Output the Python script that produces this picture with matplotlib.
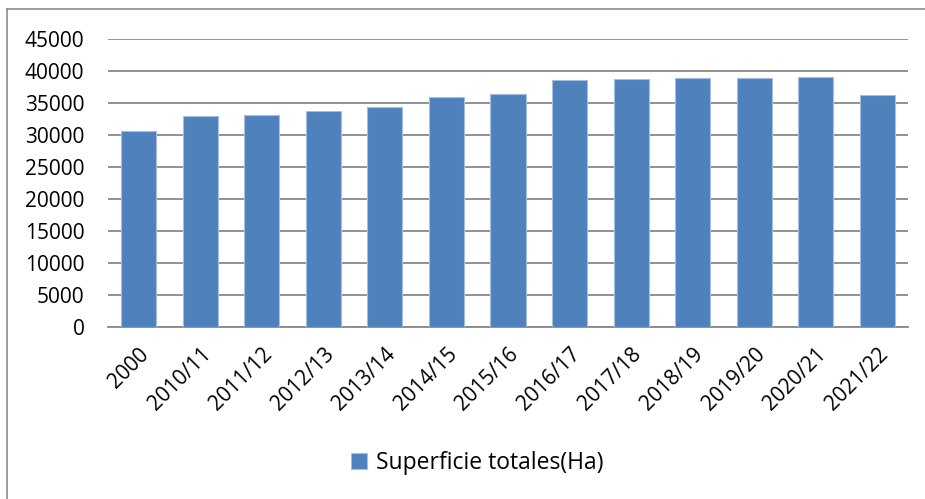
import matplotlib
matplotlib.use("Agg")
import matplotlib.pyplot as plt
from matplotlib.lines import Line2D

categories = ["2000", "2010/11", "2011/12", "2012/13", "2013/14", "2014/15", "2015/16",
              "2016/17", "2017/18", "2018/19", "2019/20", "2020/21", "2021/22"]
values = [30700, 32900, 33100, 33800, 34400, 36000, 36350,
          38650, 38700, 38850, 38900, 39000, 36200]
series_name = "Superficie totales(Ha)"
yticks = list(range(0, 45001, 5000))

plt.rcParams['font.family'] = ['Open Sans', 'DejaVu Sans']

W, H = 925, 499
fig = plt.figure(figsize=(W / 100, H / 100), dpi=100)
ax = fig.add_axes([108 / W, 1 - 327 / H, (908 - 108) / W, (327 - 39) / H])

x = range(len(categories))
bars = ax.bar(x, values, width=0.57, color="#4F81BD", edgecolor="#A7BFDE",
              linewidth=0.8, zorder=3, label=series_name)

ax.set_xlim(-0.5, len(categories) - 0.5)
ax.set_ylim(0, 45000)
ax.set_yticks(yticks)
ax.set_yticklabels([str(t) for t in yticks], fontsize=15)
ax.yaxis.grid(True, color="#898989", linewidth=1.3, zorder=0)
ax.tick_params(axis="y", length=0, pad=17)
ax.tick_params(axis="x", length=0, pad=12)
ax.set_xticks(list(x))
ax.set_xticklabels(categories, rotation=45, ha="right", va="top",
                   rotation_mode="anchor", fontsize=15)
for s in ["top", "right", "left"]:
    ax.spines[s].set_visible(False)
ax.spines["bottom"].set_color("#898989")
ax.spines["bottom"].set_linewidth(1.3)

# outer chart border (left and top visible)
fig.add_artist(Line2D([7 / W, 7 / W], [0, 1 - 9 / H], transform=fig.transFigure,
                      color="#8C8C8C", linewidth=1.2))
fig.add_artist(Line2D([7 / W, 1], [1 - 9 / H, 1 - 9 / H], transform=fig.transFigure,
                      color="#8C8C8C", linewidth=1.2))

leg = fig.legend(handles=[bars], labels=[series_name], loc="center",
                 bbox_to_anchor=(477 / W, 1 - 463 / H), frameon=False,
                 fontsize=16.5, handlelength=0.7, handleheight=0.7,
                 handletextpad=0.4)

fig.savefig("out.png", dpi=100)
